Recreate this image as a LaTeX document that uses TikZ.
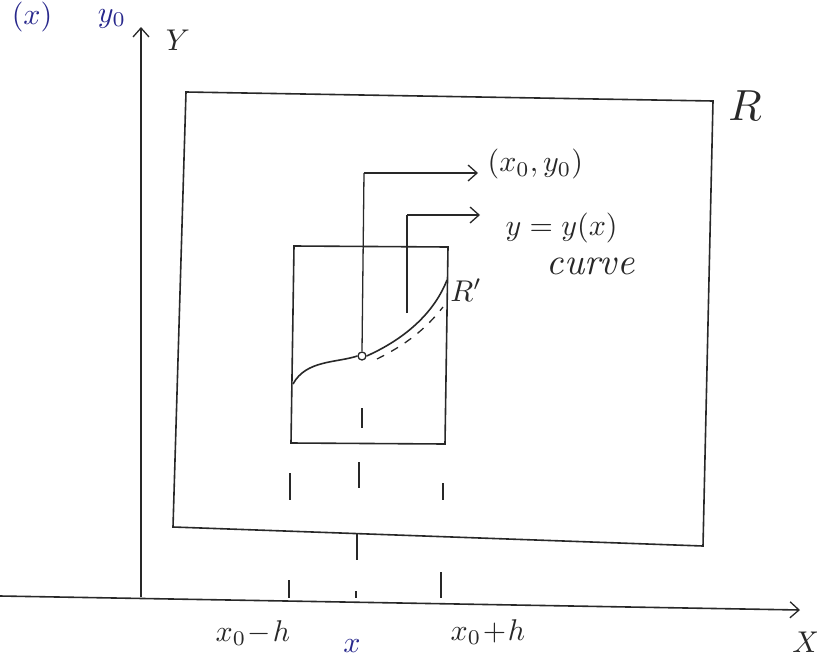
\documentclass[tikz,border=0pt]{standalone}
\usetikzlibrary{arrows.meta}
\definecolor{ink}{RGB}{40,40,40}
\definecolor{blueink}{RGB}{40,40,140}
\begin{document}
\begin{tikzpicture}[x=1pt,y=-1pt,
  pen/.style={draw=ink,line width=1.6pt},
  guide/.style={draw=ink,line width=1.3pt},
  tick/.style={draw=ink,line width=1.5pt},
  lbl/.style={text=ink,inner sep=0pt,scale=3},
  bl/.style={text=blueink,inner sep=0pt,scale=3},
  barb/.style={-{Straight Barb[length=9pt,width=16pt,line width=1.3pt]}}]
\useasboundingbox (0,0) rectangle (817,659);
\clip (0,0) rectangle (817,659);
% axes
\coordinate (yb) at (141,597);
\coordinate (yt) at (141,27);
\coordinate (xl) at (0,596);
\coordinate (xr) at (800,610);
\draw[pen,barb] (yb) -- (yt);
\draw[pen,barb] (xl) -- (xr);
\node[lbl] (Ylbl) at (178,40) {$Y$};
\node[lbl] (Xlbl) at (806,642) {$X$};
% text at the top edge
\node[bl,anchor=base] (topa) at (32,24) {$(x)$};
\node[bl,anchor=base] (topb) at (112,22) {$y_0$};
% outer region R
\coordinate (Ra) at (186,92);
\coordinate (Rb) at (713,101);
\coordinate (Rc) at (703,546);
\coordinate (Rd) at (173,527);
\draw[pen] (Ra) -- (Rb) -- (Rc) -- (Rd) -- cycle;
\node[lbl,scale=1.45] (Rlbl) at (745,106) {$R$};
% inner region R'
\coordinate (ia) at (294,246);
\coordinate (ib) at (448,247);
\coordinate (ic) at (445,444);
\coordinate (id) at (291,443);
\draw[pen] (ia) -- (ib) -- (ic) -- (id) -- cycle;
\node[lbl] (Rp) at (466,290) {$R'$};
% curve
\coordinate (c0) at (293,384);
\node[circle,draw=ink,line width=1.3pt,minimum size=8pt,inner sep=0pt] (pt) at (362,356) {};
\coordinate (c1) at (447,280);
\draw[pen] (c0) .. controls (306,360) and (336,363) .. (pt.west);
\draw[pen] (pt.east) .. controls (398,342) and (432,318) .. (c1);
\coordinate (d0) at (377,359);
\coordinate (d1) at (443,307);
\draw[guide,dashed,dash pattern=on 8pt off 8pt] (d0) .. controls (405,345) and (425,330) .. (d1);
% leaders
\coordinate (l1a) at (364,173);
\coordinate (l1b) at (478,173);
\draw[guide] (pt.north) -- (l1a);
\draw[guide,barb] (l1a) -- (l1b);
\node[lbl,anchor=west] (p0) at (487,164) {$(x_0,y_0)$};
\coordinate (l2) at (407,313);
\coordinate (l2a) at (407,215);
\coordinate (l2b) at (480,215);
\draw[guide] (l2) -- (l2a);
\draw[guide,barb] (l2a) -- (l2b);
\node[lbl,anchor=west] (eq) at (505,228) {$y=y(x)$};
\node[lbl,anchor=west,scale=1.25,font=\itshape] (cv) at (546,266) {curve};
% dashed drop lines
\foreach \x/\a/\b in {362/408/428, 359/462/488, 357/533/560, 356/591/598,
                      290/473/500, 289/580/598,
                      443/483/500, 441/572/598}
  {\draw[tick] (\x,\a) -- (\x,\b);}
% labels on x axis
\node[lbl] (xm) at (253,633) {$x_0\!-\!h$};
\node[bl] (xx) at (352,646) {$x$};
\node[lbl] (xp) at (488,632) {$x_0\!+\!h$};
\end{tikzpicture}
\end{document}
